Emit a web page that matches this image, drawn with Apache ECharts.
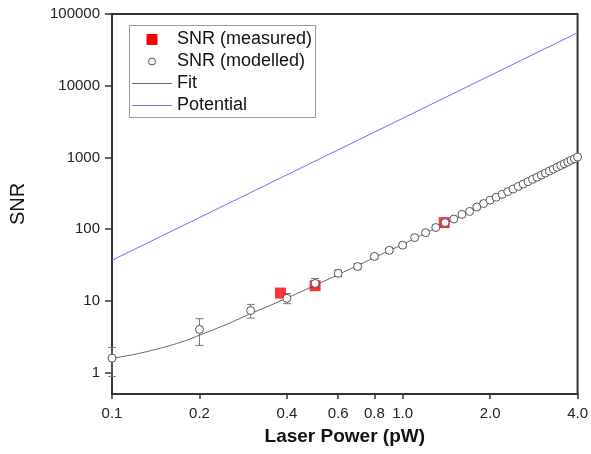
<!DOCTYPE html>
<html>
<head>
<meta charset="utf-8">
<script src="https://cdn.jsdelivr.net/npm/echarts@6/dist/echarts.min.js"></script>
<style>html,body{margin:0;padding:0;background:#fff}#c{width:591px;height:454px}</style>
</head>
<body>
<div id="c"></div>
<script>
// ---- data ----
const xTicks = [0.1, 0.2, 0.4, 0.6, 0.8, 1.0, 2.0, 4.0];
const yTicks = [1, 10, 100, 1000, 10000, 100000];

const measuredX = [0.38, 0.5, 1.39];
const measuredY = [12.8, 16.2, 123];

const modelledX = [0.1,0.2,0.3,0.4,0.5,0.6,0.7,0.8,0.9,1.0,
                   1.1,1.2,1.3,1.4,1.5,1.6,1.7,1.8,1.9,2.0,
                   2.1,2.2,2.3,2.4,2.5,2.6,2.7,2.8,2.9,3.0,
                   3.1,3.2,3.3,3.4,3.5,3.6,3.7,3.8,3.9,4.0];
const modelledY = [1.58,3.98,7.3,10.8,17.4,24.1,30,41.5,50.5,59.5,
                   76,89,105,123,138,160,176,203,227,253,
                   278,305,333,362,393,425,458,493,529,566,
                   604,644,685,727,771,815,861,909,957,1010];

const errX    = [0.1, 0.2, 0.3, 0.4, 0.5, 0.6, 0.7, 0.8, 0.9, 1.0];
const errLow  = [0.88, 2.38, 5.73, 9.1, 15.2, 21.8, 27.5, 38.5, 47.5, 56];
const errHigh = [2.23, 5.62, 8.9, 12.6, 20.4, 26.8, 33, 44.5, 53.5, 63];

const fitX = [0.1,0.12,0.14,0.16,0.18,0.2,0.25,0.3,0.35,0.4,0.5,0.6,0.7,0.8,0.9,1.0,1.2,1.5,2.0,2.5,3.0,3.5,4.0];
const fitY = [1.57,1.79,2.07,2.4,2.79,3.3,4.75,6.6,8.6,10.9,16.4,23.2,31,40,50,61,88,136,245,386,555,757,990];

const potentialX = [0.1, 1.0, 4.0];
const potentialY = [36.7, 3500, 54800];

const seriesNames = ['SNR (measured)', 'SNR (modelled)', 'Fit', 'Potential'];

const zip = (a, b) => a.map((v, i) => [v, b[i]]);
const FONT = "'Liberation Sans', Arial, sans-serif";
const C_MEAS = '#ff0000', C_MOD = '#555', C_FIT = '#666', C_POT = '#6e6eff';

// legend drawn as graphic elements (box, icons, text)
const LX = 152, TX = 177, rows = [39.5, 61.5, 83.5, 105.5];
const legendText = (i) => ({type: 'text', x: TX, y: rows[i],
  style: {text: seriesNames[i], fontSize: 18, fontFamily: FONT, fill: '#111', verticalAlign: 'middle', align: 'left'}});
const legendGraphic = [
  {type: 'rect', shape: {x: 129.5, y: 25.5, width: 186, height: 92}, style: {fill: '#fff', stroke: '#999', lineWidth: 1}},
  {type: 'rect', shape: {x: LX - 5.5, y: rows[0] - 5.5, width: 11, height: 11}, style: {fill: C_MEAS}},
  {type: 'circle', shape: {cx: LX, cy: rows[1], r: 3.5}, style: {fill: '#fff', stroke: C_MOD, lineWidth: 1}},
  {type: 'rect', shape: {x: LX - 20, y: rows[2] - 0.5, width: 40, height: 1}, style: {fill: C_FIT}},
  {type: 'rect', shape: {x: LX - 20, y: rows[3] - 0.5, width: 40, height: 1}, style: {fill: C_POT}},
  legendText(0), legendText(1), legendText(2), legendText(3)
];

const chart = echarts.init(document.getElementById('c'), null, {renderer: 'canvas'});
chart.setOption({
  animation: false,
  backgroundColor: '#fff',
  textStyle: {fontFamily: FONT},
  grid: {left: 112, right: 13, top: 14, bottom: 60, show: true, borderColor: '#333', borderWidth: 2},
  xAxis: {
    type: 'log', min: 0.1, max: 4.0,
    name: 'Laser Power (pW)', nameLocation: 'middle', nameGap: 33,
    nameTextStyle: {fontSize: 19, fontWeight: 'bold', color: '#111', fontFamily: FONT},
    axisLine: {lineStyle: {color: '#333', width: 2}},
    axisTick: {show: true, inside: false, length: 5, lineStyle: {color: '#333', width: 1.5}, customValues: xTicks},
    axisLabel: {fontSize: 15, color: '#222', margin: 12, fontFamily: FONT, customValues: xTicks,
      formatter: v => Number(v).toFixed(1)},
    splitLine: {show: false}, minorTick: {show: false}
  },
  yAxis: {
    type: 'log', min: 0.5, max: 100000,
    name: 'SNR', nameLocation: 'middle', nameGap: 84,
    nameTextStyle: {fontSize: 20, color: '#111', fontFamily: FONT},
    axisLine: {lineStyle: {color: '#333', width: 2}},
    axisTick: {show: true, inside: false, length: 7, lineStyle: {color: '#333', width: 1.5}, customValues: yTicks},
    axisLabel: {fontSize: 15, color: '#222', margin: 12, fontFamily: FONT, customValues: yTicks,
      formatter: v => String(Math.round(v))},
    splitLine: {show: false}, minorTick: {show: false}
  },
  graphic: [{type: 'group', z: 100, silent: true, children: legendGraphic}],
  series: [
    {
      name: 'errors', type: 'custom', z: 1,
      data: errX.map((x, i) => [x, errLow[i], errHigh[i]]),
      encode: {x: 0, y: [1, 2]},
      renderItem: function (params, api) {
        const x = api.value(0);
        const p1 = api.coord([x, api.value(1)]);
        const p2 = api.coord([x, api.value(2)]);
        const w = 4;
        const st = {stroke: '#777', lineWidth: 1, fill: 'none'};
        return {type: 'group', children: [
          {type: 'line', shape: {x1: p1[0], y1: p1[1], x2: p2[0], y2: p2[1]}, style: st},
          {type: 'line', shape: {x1: p1[0]-w, y1: p1[1], x2: p1[0]+w, y2: p1[1]}, style: st},
          {type: 'line', shape: {x1: p2[0]-w, y1: p2[1], x2: p2[0]+w, y2: p2[1]}, style: st}
        ]};
      }
    },
    {
      name: seriesNames[2], type: 'line', z: 2, data: zip(fitX, fitY), smooth: 0.2,
      symbol: 'none', showSymbol: false,
      lineStyle: {color: C_FIT, width: 1}, itemStyle: {color: C_FIT}
    },
    {
      name: seriesNames[3], type: 'line', z: 2, data: zip(potentialX, potentialY),
      symbol: 'none', showSymbol: false,
      lineStyle: {color: C_POT, width: 1}, itemStyle: {color: C_POT}
    },
    {
      name: seriesNames[0], type: 'scatter', z: 3, data: zip(measuredX, measuredY),
      symbol: 'rect', symbolSize: 11, itemStyle: {color: C_MEAS}
    },
    {
      name: seriesNames[1], type: 'scatter', z: 4, data: zip(modelledX, modelledY),
      symbol: 'circle', symbolSize: 8,
      itemStyle: {color: '#ffffff', borderColor: C_MOD, borderWidth: 1, opacity: 1}
    }
  ]
});
</script>
</body>
</html>
